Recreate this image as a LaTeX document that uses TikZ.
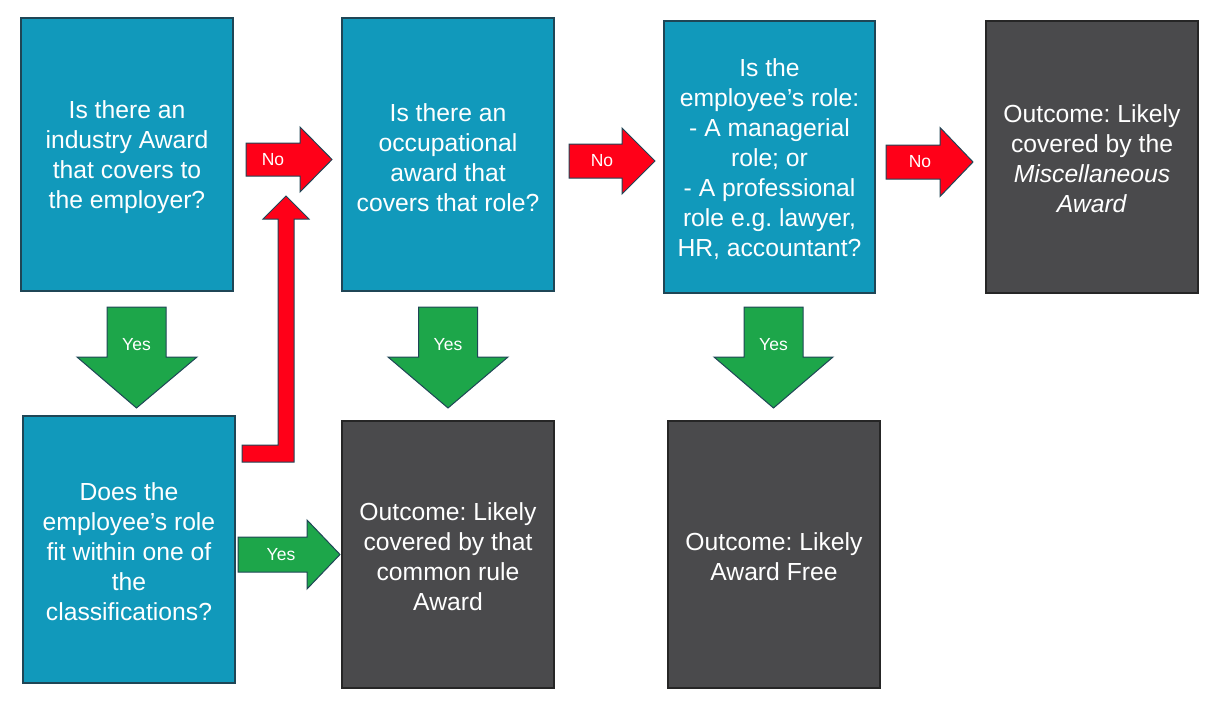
\documentclass[tikz,border=0pt]{standalone}
\usepackage{fontspec}
\setmainfont{Liberation Sans}
\frenchspacing
\definecolor{tealbox}{HTML}{1199BB}
\definecolor{graybox}{HTML}{4A4A4C}
\definecolor{redarrow}{HTML}{FF0018}
\definecolor{greenarrow}{HTML}{1DA64A}
\definecolor{edgedark}{HTML}{1F4656}
\definecolor{edgegray}{HTML}{262626}
\tikzset{
  box/.style={rectangle, draw, line width=1.3pt, text=white, align=center,
    inner sep=0pt, font=\fontsize{24.7}{30}\selectfont},
  qbox/.style={box, fill=tealbox, draw=edgedark},
  obox/.style={box, fill=graybox, draw=edgegray},
  noarrow/.style={fill=redarrow, draw=edgedark, line width=1pt, line join=miter},
  yesarrow/.style={fill=greenarrow, draw=edgedark, line width=1pt, line join=miter},
  albl/.style={text=white, font=\fontsize{17.5}{20}\selectfont, inner sep=0pt}
}
\begin{document}
\begin{tikzpicture}[x=1pt,y=-1pt]
\useasboundingbox (0,0) rectangle (1226,717);
% boxes
\node[qbox, minimum width=212pt, minimum height=273pt] (b1) at (127,154.5) {};
\node[qbox, minimum width=212pt, minimum height=273pt] (b2) at (448,154.5) {};
\node[qbox, minimum width=211pt, minimum height=272pt] (b3) at (769.5,157) {};
\node[obox, minimum width=212pt, minimum height=272pt] (b4) at (1092,157) {};
\node[qbox, minimum width=212pt, minimum height=267pt] (b5) at (129,549.5) {};
\node[obox, minimum width=212pt, minimum height=267pt] (b6) at (448,554.5) {};
\node[obox, minimum width=212pt, minimum height=267pt] (b7) at (774,554.5) {};
% box texts
\node[box, draw=none] (t1) at ([yshift=-3pt]b1.center)
  {Is there an\\industry Award\\that covers to\\the employer?};
\node[box, draw=none] (t2) at ([yshift=-3pt]b2.center)
  {Is there an\\occupational\\award that\\covers that role?};
\node[box, draw=none] (t3) at ([yshift=-2pt]b3.center)
  {Is the\\employee’s role:\\- A managerial\\role; or\\- A professional\\role e.g. lawyer,\\HR, accountant?};
\node[box, draw=none] (t4) at ([yshift=-2pt]b4.center)
  {Outcome: Likely\\covered by the\\\textit{Miscellaneous}\\\textit{Award}};
\node[box, draw=none] (t5) at ([yshift=-2pt]b5.center)
  {Does the\\employee’s role\\fit within one of\\the\\classifications?};
\node[box, draw=none] (t6) at ([yshift=-2pt]b6.center)
  {Outcome: Likely\\covered by that\\common rule\\Award};
\node[box, draw=none] (t7) at ([yshift=-2pt]b7.center)
  {Outcome: Likely\\Award Free};
% No arrows (right)
\draw[noarrow] (246,143) -- (300,143) -- (300,127) -- (332,159.5) -- (300,192) -- (300,176) -- (246,176) -- cycle;
\node[albl] (n1) at (273,159.5) {No};
\draw[noarrow] (569,144) -- (622,144) -- (622,128) -- (655,161) -- (622,194) -- (622,178) -- (569,178) -- cycle;
\node[albl] (n2) at (602,161) {No};
\draw[noarrow] (886,145) -- (940,145) -- (940,127.5) -- (973,162) -- (940,196.5) -- (940,179) -- (886,179) -- cycle;
\node[albl] (n3) at (920,162) {No};
% bent No arrow
\draw[noarrow] (242,445) -- (278,445) -- (278,219) -- (263,219) -- (286,196) -- (309,219) -- (294,219) -- (294,462) -- (242,462) -- cycle;
% Yes arrows (down)
\draw[yesarrow] (107,307) -- (166,307) -- (166,357) -- (197,357) -- (136.5,408) -- (77,357) -- (107,357) -- cycle;
\node[albl] (y1) at (136.5,345) {Yes};
\draw[yesarrow] (418.5,307) -- (477.5,307) -- (477.5,357) -- (508,357) -- (448,408) -- (388,357) -- (418.5,357) -- cycle;
\node[albl] (y2) at (448,345) {Yes};
\draw[yesarrow] (744,307) -- (803,307) -- (803,357) -- (833,357) -- (773.5,408) -- (714,357) -- (744,357) -- cycle;
\node[albl] (y3) at (773.5,345) {Yes};
% Yes arrow (right)
\draw[yesarrow] (238,537) -- (307,537) -- (307,520) -- (340,554.5) -- (307,589) -- (307,572) -- (238,572) -- cycle;
\node[albl] (y4) at (281,554.5) {Yes};
\end{tikzpicture}
\end{document}
